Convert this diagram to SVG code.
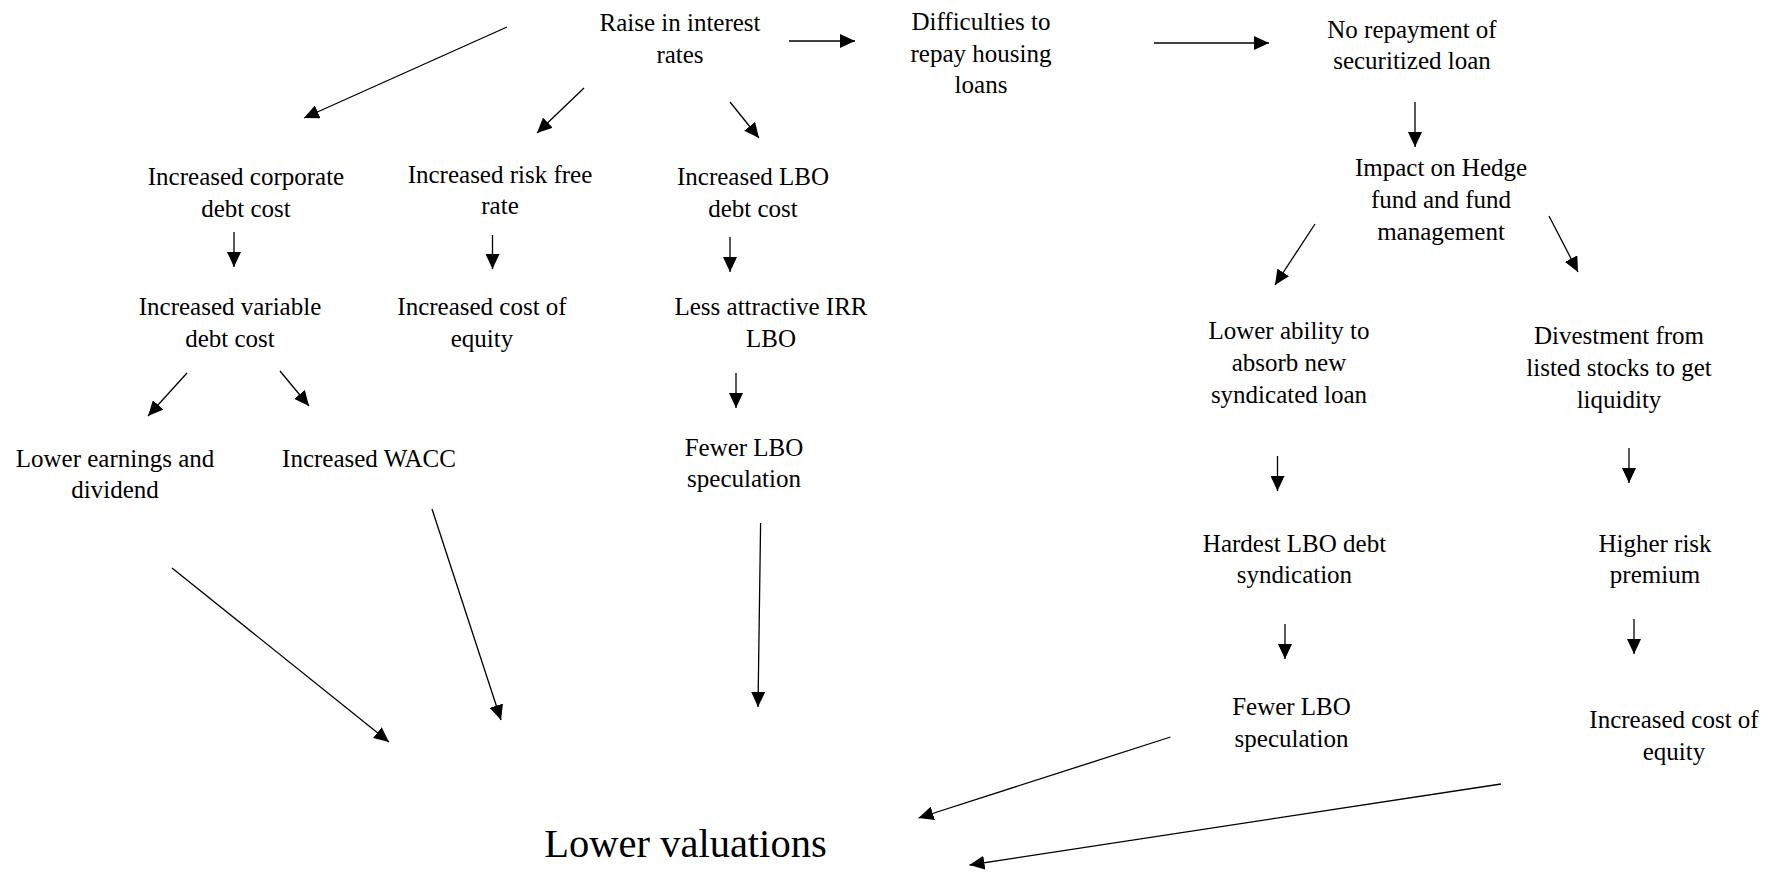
<svg xmlns="http://www.w3.org/2000/svg" width="1768" height="872" viewBox="0 0 1768 872">
<defs>
<style>
text{font-family:'Liberation Serif','DejaVu Serif',serif;font-size:25px;fill:#000;text-anchor:middle}
.big{font-size:40.5px}
.c line{stroke:#000;stroke-width:1.3;marker-end:url(#ah)}
</style>
<marker id="ah" markerUnits="userSpaceOnUse" markerWidth="15" markerHeight="14" refX="15" refY="7" orient="auto">
<path d="M0,0 L15,7 L0,14 z" fill="#000"/>
</marker>
</defs>
<rect width="1768" height="872" fill="#fff"/>
<g id="connectors" class="c">
<line x1="789" y1="41" x2="855" y2="41"/>
<line x1="1154" y1="43" x2="1269" y2="43"/>
<line x1="507" y1="27" x2="304" y2="118"/>
<line x1="584" y1="88" x2="537" y2="133"/>
<line x1="730" y1="102" x2="759" y2="138"/>
<line x1="234" y1="232" x2="234" y2="267"/>
<line x1="492.5" y1="235" x2="492.5" y2="269"/>
<line x1="730" y1="237" x2="730" y2="272"/>
<line x1="1415" y1="102" x2="1415" y2="147"/>
<line x1="1315" y1="224" x2="1275" y2="285"/>
<line x1="1549" y1="216" x2="1578" y2="272"/>
<line x1="187" y1="373" x2="148" y2="416"/>
<line x1="280" y1="371" x2="309" y2="406"/>
<line x1="736" y1="373" x2="736" y2="408"/>
<line x1="1277.5" y1="456" x2="1277.5" y2="491"/>
<line x1="1629" y1="448" x2="1629" y2="483"/>
<line x1="1285" y1="624" x2="1285" y2="659"/>
<line x1="1634" y1="619" x2="1634" y2="654"/>
<line x1="172" y1="568" x2="389" y2="742"/>
<line x1="432" y1="509" x2="501" y2="720"/>
<line x1="760.6" y1="523" x2="758" y2="707"/>
<line x1="1170.5" y1="737" x2="918.5" y2="818"/>
<line x1="1501" y1="784" x2="969.5" y2="865"/>
</g>
<g font-family="Liberation Serif, DejaVu Serif, serif">
<g id="raise"><text x="680" y="31">Raise in interest</text><text x="680" y="63">rates</text></g>
<g id="difficulties"><text x="981" y="30">Difficulties to</text><text x="981" y="62">repay housing</text><text x="981" y="93">loans</text></g>
<g id="norepay"><text x="1412" y="38">No repayment of</text><text x="1412" y="69">securitized loan</text></g>
<g id="impact"><text x="1441" y="176">Impact on Hedge</text><text x="1441" y="208">fund and fund</text><text x="1441" y="240">management</text></g>
<g id="corpdebt"><text x="246" y="185">Increased corporate</text><text x="246" y="217">debt cost</text></g>
<g id="riskfree"><text x="500" y="183">Increased risk free</text><text x="500" y="214">rate</text></g>
<g id="lbodebt"><text x="753" y="185">Increased LBO</text><text x="753" y="217">debt cost</text></g>
<g id="variable"><text x="230" y="315">Increased variable</text><text x="230" y="347">debt cost</text></g>
<g id="costequity1"><text x="482" y="315">Increased cost of</text><text x="482" y="347">equity</text></g>
<g id="irr"><text x="771" y="315">Less attractive IRR</text><text x="771" y="347">LBO</text></g>
<g id="earnings"><text x="115" y="467">Lower earnings and</text><text x="115" y="498">dividend</text></g>
<g id="wacc"><text x="369" y="467">Increased WACC</text></g>
<g id="fewer1"><text x="744" y="456">Fewer LBO</text><text x="744" y="487">speculation</text></g>
<g id="ability"><text x="1289" y="339">Lower ability to</text><text x="1289" y="371">absorb new</text><text x="1289" y="403">syndicated loan</text></g>
<g id="divest"><text x="1619" y="344">Divestment from</text><text x="1619" y="376">listed stocks to get</text><text x="1619" y="408">liquidity</text></g>
<g id="hardest"><text x="1294.5" y="552">Hardest LBO debt</text><text x="1294.5" y="583">syndication</text></g>
<g id="riskpremium"><text x="1655" y="552">Higher risk</text><text x="1655" y="583">premium</text></g>
<g id="fewer2"><text x="1291.5" y="715">Fewer LBO</text><text x="1291.5" y="747">speculation</text></g>
<g id="costequity2"><text x="1674" y="728">Increased cost of</text><text x="1674" y="760">equity</text></g>
<g id="valuations"><text class="big" x="685.5" y="857">Lower valuations</text></g>
</g>
</svg>
